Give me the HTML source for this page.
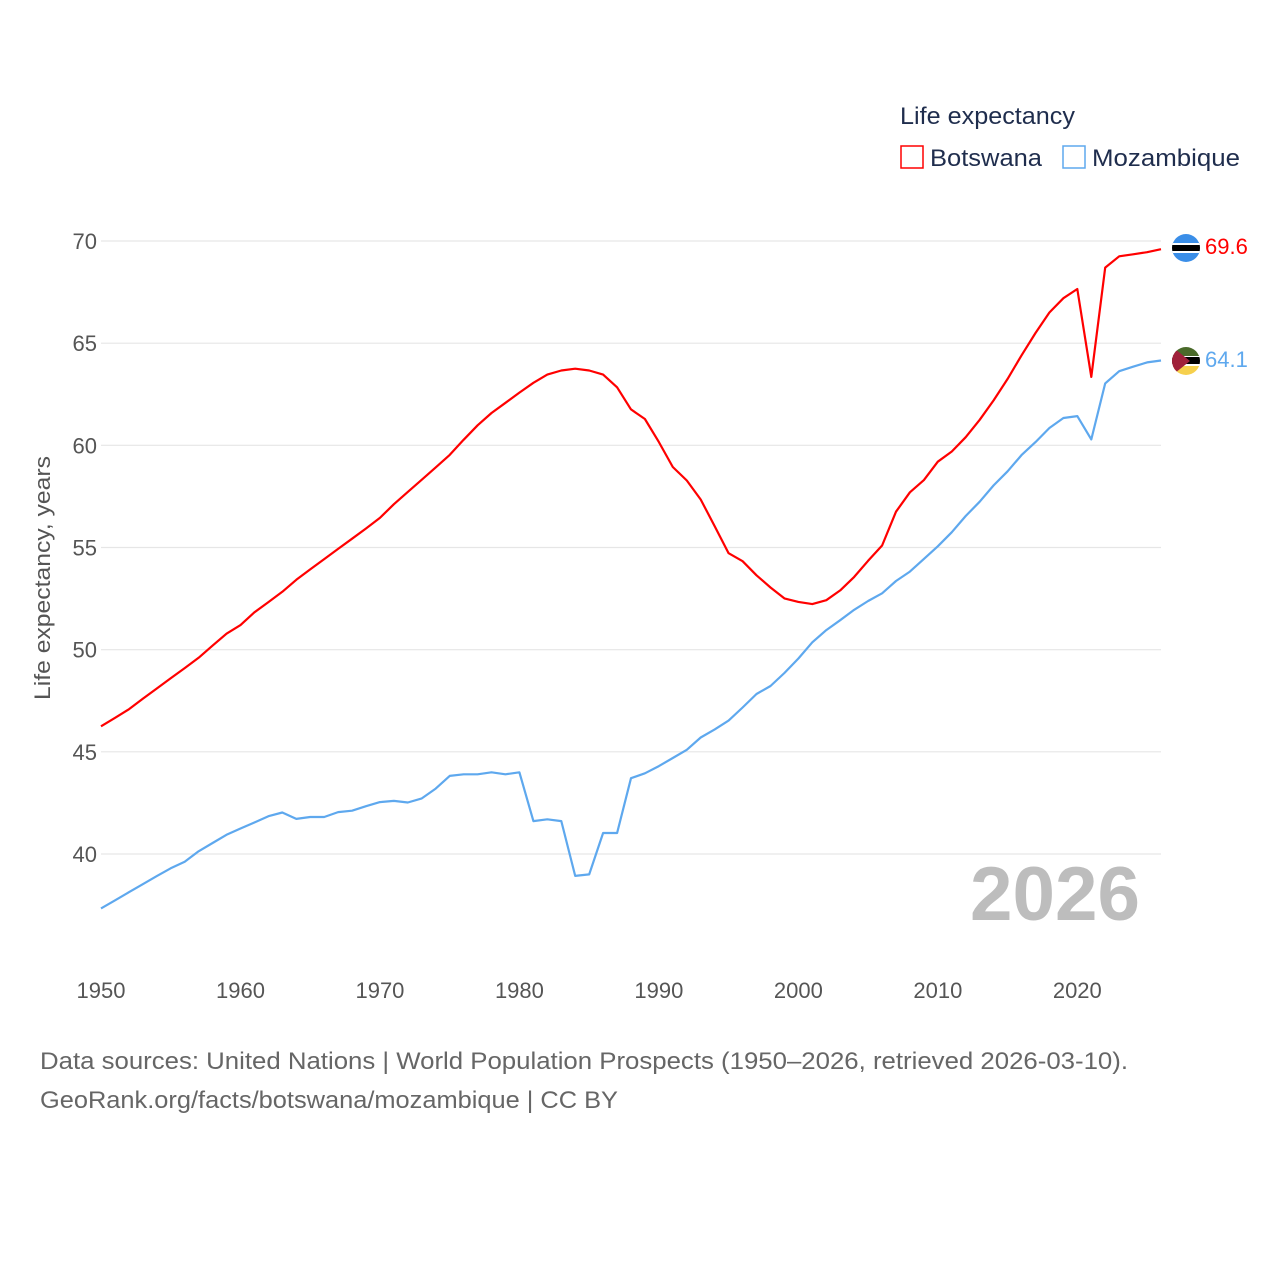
<!DOCTYPE html>
<html><head><meta charset="utf-8">
<style>
body{margin:0;background:#fff;}
svg{display:block;font-family:"Liberation Sans",sans-serif;}
</style></head>
<body>
<svg id="chart" width="1280" height="1280">
<text x="900" y="124" font-size="24" fill="#1f2d4d" textLength="175" lengthAdjust="spacingAndGlyphs">Life expectancy</text>
<g><rect x="901" y="146" width="22" height="22" fill="none" stroke="#f00" stroke-width="1.5"/><text x="930" y="166" font-size="24" fill="#1f2d4d" textLength="112" lengthAdjust="spacingAndGlyphs">Botswana</text></g>
<g><rect x="1063" y="146" width="22" height="22" fill="none" stroke="#5ea8ee" stroke-width="1.5"/><text x="1092" y="166" font-size="24" fill="#1f2d4d" textLength="148" lengthAdjust="spacingAndGlyphs">Mozambique</text></g>
<text transform="translate(50,578) rotate(-90)" text-anchor="middle" font-size="22" fill="#555" textLength="244" lengthAdjust="spacingAndGlyphs">Life expectancy, years</text>
<g id="grid"></g><g id="yt"></g><g id="xt"></g>
<text x="1140" y="920" text-anchor="end" font-size="76" font-weight="bold" fill="#bdbdbd" textLength="170" lengthAdjust="spacingAndGlyphs">2026</text>
<g id="lines"></g>
<g>
<clipPath id="c1"><circle cx="1186" cy="248" r="14"/></clipPath>
<g clip-path="url(#c1)"><rect x="1170" y="232" width="32" height="32" fill="#3a8ee8"/><rect x="1170" y="243" width="32" height="10" fill="#fff"/><rect x="1170" y="245" width="32" height="6" fill="#000"/></g></g>
<g>
<clipPath id="c2"><circle cx="1186" cy="361" r="14"/></clipPath>
<g clip-path="url(#c2)"><rect x="1170" y="345" width="32" height="11" fill="#4a6a2a"/><rect x="1170" y="356" width="32" height="10" fill="#fff"/><rect x="1170" y="357" width="32" height="7" fill="#000"/><rect x="1170" y="366" width="32" height="12" fill="#f6d04d"/><polygon points="1170,345 1190,361 1170,377" fill="#a0213a"/></g></g>
<text x="1205" y="254" font-size="22" fill="#f00">69.6</text>
<text x="1205" y="367" font-size="22" fill="#5ea8ee">64.1</text>
<text x="40" y="1069" font-size="24" fill="#666" textLength="1088" lengthAdjust="spacingAndGlyphs">Data sources: United Nations | World Population Prospects (1950–2026, retrieved 2026-03-10).</text>
<text x="40" y="1108" font-size="24" fill="#666" textLength="578" lengthAdjust="spacingAndGlyphs">GeoRank.org/facts/botswana/mozambique | CC BY</text>
</svg>
<script>
const years = [];
for (let y = 1950; y <= 2026; y++) years.push(y);
const botswana = [46.25,46.66,47.08,47.6,48.1,48.6,49.1,49.6,50.2,50.78,51.2,51.83,52.33,52.83,53.42,53.93,54.43,54.93,55.43,55.93,56.45,57.12,57.72,58.32,58.92,59.53,60.27,60.98,61.58,62.08,62.58,63.06,63.46,63.66,63.75,63.66,63.46,62.84,61.76,61.29,60.16,58.94,58.28,57.35,56.04,54.72,54.33,53.64,53.04,52.51,52.34,52.23,52.42,52.9,53.56,54.35,55.1,56.75,57.7,58.3,59.2,59.7,60.4,61.25,62.2,63.25,64.4,65.5,66.5,67.2,67.65,63.35,68.7,69.25,69.35,69.45,69.6];
const mozambique = [37.34,37.73,38.13,38.52,38.92,39.3,39.62,40.13,40.54,40.94,41.25,41.54,41.85,42.03,41.72,41.81,41.81,42.05,42.12,42.34,42.54,42.6,42.52,42.72,43.2,43.82,43.9,43.9,44.0,43.9,44.0,41.61,41.7,41.61,38.93,39.0,41.03,41.03,43.71,43.95,44.3,44.7,45.1,45.7,46.1,46.53,47.17,47.83,48.22,48.86,49.57,50.36,50.96,51.44,51.95,52.38,52.76,53.36,53.82,54.44,55.06,55.75,56.54,57.24,58.04,58.73,59.52,60.16,60.85,61.34,61.43,60.29,63.03,63.63,63.85,64.06,64.15];
const yTicks = [40,45,50,55,60,65,70];
const xTicks = [1950,1960,1970,1980,1990,2000,2010,2020];
const NS = "http://www.w3.org/2000/svg";
const xs = yr => 101 + (yr - 1950) * (1060 / 76);
const ys = v => 854 - (v - 40) * (613 / 30);
function mk(tag, attrs, parent, txt) {
  const e = document.createElementNS(NS, tag);
  for (const k in attrs) e.setAttribute(k, attrs[k]);
  if (txt !== undefined) e.textContent = txt;
  document.getElementById(parent).appendChild(e);
  return e;
}
yTicks.forEach(t => {
  const g = mk("line", {x1: 101, x2: 1161, y1: ys(t), y2: ys(t), stroke: "#e6e6e6", "stroke-width": 1.2}, "grid");
  
  
  const l = mk("text", {x: 97, y: ys(t) + 8, "text-anchor": "end", "font-size": 22, fill: "#555"}, "yt", t);
  
  
});
xTicks.forEach(t => {
  const l = mk("text", {x: xs(t), y: 998, "text-anchor": "middle", "font-size": 22, fill: "#555"}, "xt", t);
  
  
});
function line(vals, color, name) {
  const d = vals.map((v, i) => (i ? "L" : "M") + xs(years[i]).toFixed(1) + "," + ys(v).toFixed(1)).join("");
  const p = mk("path", {d: d, fill: "none", stroke: color, "stroke-width": 2.2, "stroke-linejoin": "round"}, "lines");
  
  
}
line(mozambique, "#5ea8ee", "mozambique-line");
line(botswana, "#f00", "botswana-line");
</script>
</body></html>
